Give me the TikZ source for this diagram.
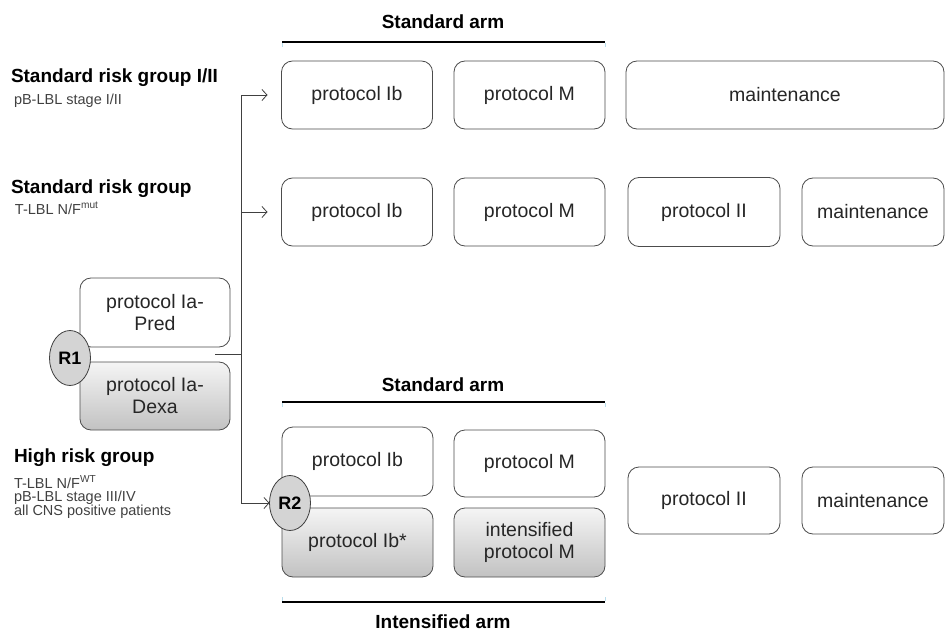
\documentclass[tikz,border=0pt]{standalone}
\usepackage{fontspec}
\setmainfont{Liberation Sans}
\usetikzlibrary{shapes.geometric,arrows.meta}

\tikzset{
  every node/.style={inner sep=0pt, outer sep=0pt},
  pbox/.style={draw=black!70, line width=0.8pt, rounded corners=11pt, fill=white,
    align=center, text=black!85, font=\fontsize{19.5}{22}\selectfont},
  gbox/.style={pbox, top color=black!4, bottom color=black!24},
  rand/.style={ellipse, draw=black!75, line width=0.8pt, fill=black!17,
    minimum width=41pt, minimum height=55pt, font=\bfseries\fontsize{18}{20}\selectfont},
  armbar/.style={line width=1.6pt, black},
  armtick/.style={line width=0.8pt, black!25!cyan!30},
  armlabel/.style={font=\bfseries\fontsize{19}{22}\selectfont},
  grouptitle/.style={anchor=base west, font=\bfseries\fontsize{19}{22}\selectfont},
  groupnote/.style={anchor=base west, text=black!75, font=\fontsize{14.5}{16}\selectfont},
  link/.style={line width=0.8pt, black!75},
  arr/.style={link, -{Straight Barb[length=5pt,width=11pt]}},
}

\begin{document}
\begin{tikzpicture}[x=1pt,y=-1pt]
\useasboundingbox (0,0) rectangle (946,634);

% risk group descriptions
\node[grouptitle] (g1) at (11,83) {Standard risk group I/II};
\node[groupnote]  (g1a) at (14,105) {pB-LBL stage I/II};
\node[grouptitle] (g2) at (11,193) {Standard risk group};
\node[groupnote]  (g2a) at (15,214) {T-LBL N/F\textsuperscript{mut}};
\node[grouptitle] (g3) at (14,462) {High risk group};
\node[groupnote]  (g3a) at (14,488) {T-LBL N/F\textsuperscript{WT}};
\node[groupnote]  (g3b) at (14,501.5) {pB-LBL stage III/IV};
\node[groupnote]  (g3c) at (14,515) {all CNS positive patients};

% induction with first randomisation
\node[pbox, minimum width=150pt, minimum height=69pt] (pred) at (155,312.5) {protocol Ia-\\Pred};
\node[gbox, minimum width=150pt, minimum height=68pt] (dexa) at (155,396) {protocol Ia-\\Dexa};
\node[rand] (r1) at (70,358) {R1};

% standard arm, top
\node[armlabel] (sa1) at (443,22) {Standard arm};
\draw[armbar] (282,42) -- (605,42);
\draw[armtick] (282,43) -- (282,47) (605,43) -- (605,47);

% standard risk group I/II
\node[pbox, minimum width=151pt, minimum height=68pt] (ib1) at (357,95) {protocol Ib};
\node[pbox, minimum width=151pt, minimum height=68pt] (m1) at (529.5,95) {protocol M};
\node[pbox, minimum width=318pt, minimum height=68pt] (mt1) at (785,95) {maintenance};

% standard risk group
\node[pbox, minimum width=151pt, minimum height=68pt] (ib2) at (357,212) {protocol Ib};
\node[pbox, minimum width=151pt, minimum height=68pt] (m2) at (529.5,212) {protocol M};
\node[pbox, minimum width=152pt, minimum height=69pt] (ii2) at (704,212) {protocol II};
\node[pbox, minimum width=142pt, minimum height=68pt] (mt2) at (873,212) {maintenance};

% high risk group with second randomisation
\node[armlabel] (sa2) at (443,385) {Standard arm};
\draw[armbar] (282,402) -- (605,402);
\draw[armtick] (282,403) -- (282,407) (605,403) -- (605,407);

\node[pbox, minimum width=151pt, minimum height=69pt] (ib3) at (357.5,461.5) {protocol Ib};
\node[pbox, minimum width=151pt, minimum height=67pt] (m3) at (529.5,463.5) {protocol M};
\node[gbox, minimum width=151pt, minimum height=69pt] (ibs) at (357.5,542.5) {protocol Ib*};
\node[gbox, minimum width=151pt, minimum height=69pt] (im3) at (529.5,542.5) {intensified\\protocol M};
\node[rand] (r2) at (290,503) {R2};

\node[pbox, minimum width=152pt, minimum height=67pt] (ii3) at (704,500.5) {protocol II};
\node[pbox, minimum width=142pt, minimum height=67pt] (mt3) at (873,500.5) {maintenance};

\draw[armtick] (282,597) -- (282,601) (605,597) -- (605,601);
\draw[armbar] (282,602) -- (605,602);
\node[armlabel] (ia) at (443,622) {Intensified arm};

% allocation after induction
\coordinate (split) at (215,354);
\coordinate (trunk) at (241,354);
\draw[link] (split) -- (trunk);
\draw[arr, shorten >=14pt] (trunk) |- (ib1.west);
\draw[arr, shorten >=14pt] (trunk) |- (ib2.west);
\draw[arr] (trunk) |- (r2.west);
\end{tikzpicture}
\end{document}
